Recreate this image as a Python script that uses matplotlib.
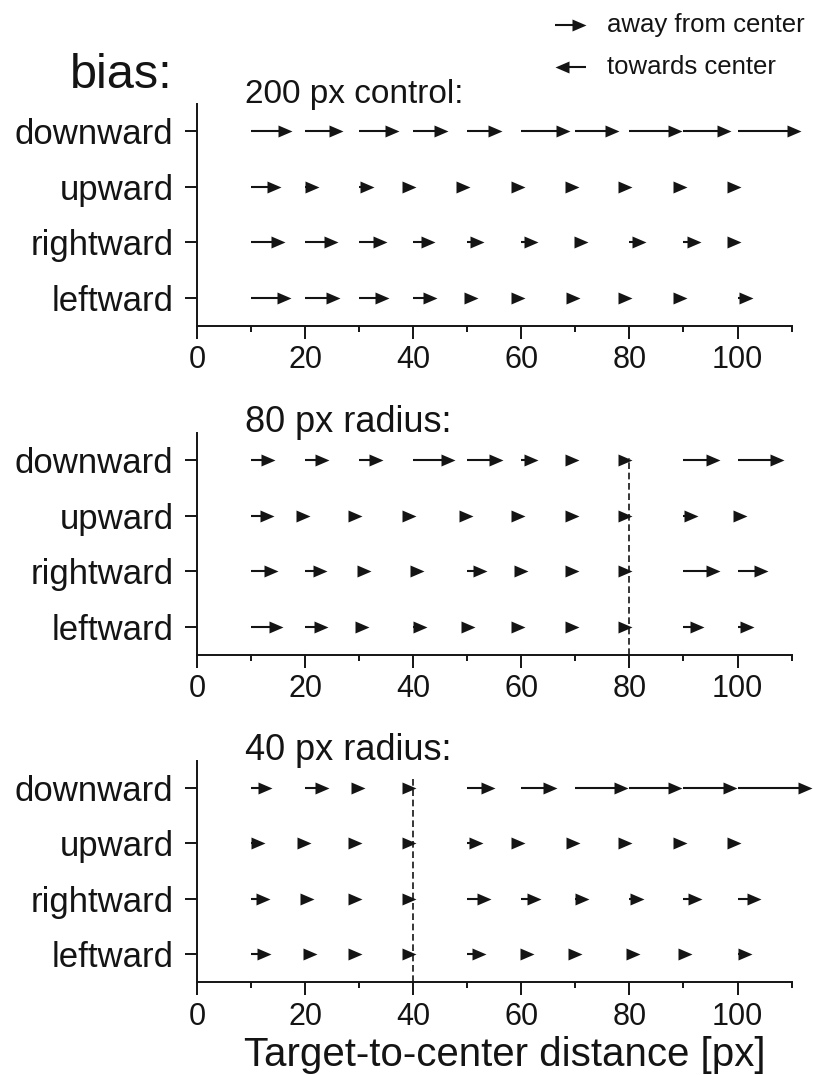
import numpy as np
import matplotlib
matplotlib.use("Agg")
import matplotlib.pyplot as plt
from matplotlib.path import Path

plt.rcParams['font.family'] = ['Liberation Sans', 'DejaVu Sans']

W, H = 813, 1075
INK = '#141414'

# target-to-center distances [px] and the four bias directions
targets = [10, 20, 30, 40, 50, 60, 70, 80, 90, 100]
rows = ['downward', 'upward', 'rightward', 'leftward']
titles = ['200 px control:', '80 px radius:', '40 px radius:']
title_size = [24, 26, 26]
radius = [None, 80, 40]
radius_top = [None, 4.03, 4.2]

# bias length [px], positive = away from center
control_down  = [7.5, 7.0, 7.4, 6.5, 6.4, 9.0, 8.1, 9.7, 8.7, 11.7]
control_up    = [5.5, 2.5, 2.7, 0.5, 0.5, 0.6, 0.6, 0.5, 0.6, 0.6]
control_right = [6.3, 6.0, 5.2, 4.0, 3.1, 3.1, 2.3, 3.1, 3.2, 0.6]
control_left  = [7.3, 6.4, 5.6, 4.4, 2.0, 0.7, 0.8, 0.5, 0.6, 2.9]

r80_down  = [4.5, 4.4, 4.4, 7.7, 6.7, 3.0, 0.6, 0.5, 6.7, 8.6]
r80_up    = [4.3, 0.9, 0.5, 0.5, 1.0, 0.6, 0.6, 0.5, 2.7, 1.8]
r80_right = [5.0, 4.0, 2.2, 2.0, 3.6, 1.2, 0.6, 0.5, 6.7, 5.7]
r80_left  = [6.0, 4.2, 1.8, 2.5, 1.5, 0.6, 0.6, 0.5, 3.8, 3.1]

r40_down  = [3.9, 4.4, 1.1, 0.5, 5.1, 6.6, 9.7, 9.7, 9.9, 13.8]
r40_up    = [2.6, 1.1, 0.5, 0.5, 2.9, 0.6, 0.8, 0.5, 0.6, 0.6]
r40_right = [3.5, 1.7, 0.5, 0.5, 4.3, 3.6, 2.5, 2.7, 3.4, 4.4]
r40_left  = [3.7, 2.2, 0.5, 0.5, 3.5, 2.3, 1.2, 1.9, 1.6, 2.6]

panels = [
    [control_down, control_up, control_right, control_left],
    [r80_down, r80_up, r80_right, r80_left],
    [r40_down, r40_up, r40_right, r40_left],
]

# arrow heads: filled triangles with the tip at the marker origin
HL, HW = 14.0, 12.0
head_r = Path([(0, 0), (-HL, HW / 2), (-HL, -HW / 2), (0, 0)],
              [Path.MOVETO, Path.LINETO, Path.LINETO, Path.CLOSEPOLY])
head_l = Path([(0, 0), (HL, HW / 2), (HL, -HW / 2), (0, 0)],
              [Path.MOVETO, Path.LINETO, Path.LINETO, Path.CLOSEPOLY])
HEAD_MS = 1.44 * HL
SHAFT_LW = 1.5


def arrows(ax, tails, tips, ys, back=1.5):
    tails = np.asarray(tails, float)
    tips = np.asarray(tips, float)
    ys = np.asarray(ys, float)
    ends = np.maximum(tails, tips - back)
    keep = ends > tails
    ax.hlines(ys[keep], tails[keep], ends[keep], color=INK, lw=SHAFT_LW,
              clip_on=False, zorder=3)
    ax.plot(tips, ys, ls='none', marker=head_r, ms=HEAD_MS, mfc=INK,
            mec='none', clip_on=False, zorder=4)


def px(x, y):
    return x / W, 1 - y / H


fig = plt.figure(figsize=(W / 100, H / 100), dpi=100)

left, width = 197 / W, 594.6 / W
boxes = [(104, 326), (432.7, 655), (760.7, 982.3)]

for i, (top, bot) in enumerate(boxes):
    ax = fig.add_axes([left, 1 - bot / H, width, (bot - top) / H])
    ax.set_xlim(0, 110)
    ax.set_ylim(0.49, 4.49)

    for j, vals in enumerate(panels[i]):
        y = 4 - j
        tips = np.array(targets) + np.array(vals)
        arrows(ax, targets, tips, [y] * len(targets))

    if radius[i] is not None:
        ax.vlines(radius[i], 0.49, radius_top[i], color=INK, lw=1.2,
                  linestyles=(0, (4, 2.2)), zorder=2)

    for s in ['top', 'right']:
        ax.spines[s].set_visible(False)
    for s in ['left', 'bottom']:
        ax.spines[s].set_linewidth(1.4)
        ax.spines[s].set_color(INK)

    ax.set_xticks(range(0, 101, 20))
    ax.set_xticks(range(10, 111, 20), minor=True)
    ax.set_yticks([4, 3, 2, 1])
    ax.set_yticklabels(rows)
    ax.tick_params(axis='x', which='major', direction='out', length=9,
                   width=1.4, color=INK, labelsize=22, labelcolor=INK, pad=5)
    ax.tick_params(axis='x', which='minor', direction='out', length=4.5,
                   width=1.4, color=INK)
    ax.tick_params(axis='y', direction='out', length=9, width=1.4,
                   color=INK, labelsize=25, labelcolor=INK, pad=8)
    ax.patch.set_alpha(0)

    fig.text(*px(245, top - 1), titles[i], fontsize=title_size[i], color=INK,
             ha='left', va='baseline')

fig.text(*px(70, 88), 'bias:', fontsize=35, color=INK, ha='left', va='baseline')
fig.text(*px(505, 1066), 'Target-to-center distance [px]', fontsize=29,
         color=INK, ha='center', va='baseline')

# direction key in the upper right corner, drawn in pixel space
key = fig.add_axes([0, 0, 1, 1])
key.set_axis_off()
key.set_xlim(0, W)
key.set_ylim(H, 0)
key.hlines([25, 67], [555, 567], [579, 586], color=INK, lw=SHAFT_LW)
key.plot([586], [25], ls='none', marker=head_r, ms=HEAD_MS, mfc=INK, mec='none')
key.plot([555], [67], ls='none', marker=head_l, ms=HEAD_MS, mfc=INK, mec='none')
fig.text(*px(607, 32), 'away from center', fontsize=18.5, color=INK,
         ha='left', va='baseline')
fig.text(*px(607, 74), 'towards center', fontsize=18.5, color=INK,
         ha='left', va='baseline')

fig.savefig('out.png', dpi=100)
